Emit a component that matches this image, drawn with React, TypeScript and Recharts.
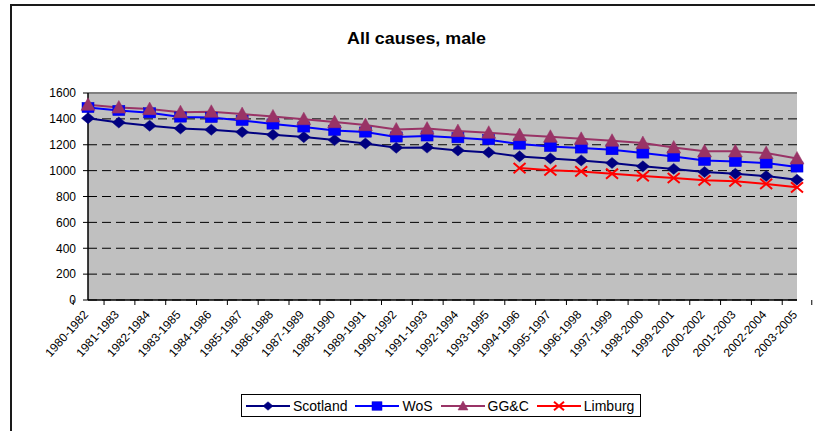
import React from 'react'
import { LineChart, Line, XAxis, YAxis, CartesianGrid, Legend, ReferenceLine } from 'recharts'

const periods = [
  '1980-1982', '1981-1983', '1982-1984', '1983-1985', '1984-1986', '1985-1987',
  '1986-1988', '1987-1989', '1988-1990', '1989-1991', '1990-1992', '1991-1993',
  '1992-1994', '1993-1995', '1994-1996', '1995-1997', '1996-1998', '1997-1999',
  '1998-2000', '1999-2001', '2000-2002', '2001-2003', '2002-2004', '2003-2005',
]

const scotland = [1405, 1372, 1347, 1326, 1316, 1298, 1277, 1259, 1236, 1210, 1177, 1178, 1156, 1141, 1110, 1094, 1079, 1059, 1033, 1013, 989, 976, 958, 930]
const wos = [1488, 1465, 1447, 1414, 1411, 1388, 1360, 1337, 1311, 1298, 1260, 1268, 1254, 1239, 1205, 1187, 1175, 1162, 1136, 1110, 1079, 1071, 1059, 1028]
const ggc = [1509, 1488, 1476, 1452, 1455, 1437, 1419, 1398, 1375, 1352, 1318, 1325, 1306, 1293, 1275, 1262, 1246, 1231, 1213, 1179, 1149, 1149, 1136, 1094]
const limburg = [null, null, null, null, null, null, null, null, null, null, null, null, null, null, 1020, 1002, 994, 976, 958, 943, 925, 917, 897, 871]

const yTicks = [0, 200, 400, 600, 800, 1000, 1200, 1400, 1600]

const data = periods.map((p, i) => ({
  period: p,
  Scotland: scotland[i],
  WoS: wos[i],
  'GG&C': ggc[i],
  Limburg: limburg[i],
}))

const NAVY = '#000080'
const BLUE = '#0000ff'
const PLUM = '#993366'
const RED = '#ff0000'
const font = 'Arial, "Liberation Sans", sans-serif'

// marker shapes (size passed as s, recharts' own r is ignored)
const Diamond = ({ cx, cy, s = 6.5 }: any) =>
  cx == null || cy == null ? null : (
    <path d={`M${cx},${cy - s * 0.85}L${cx + s},${cy}L${cx},${cy + s * 0.85}L${cx - s},${cy}Z`} fill={NAVY} stroke={NAVY} strokeWidth={0.5} />
  )
const Square = ({ cx, cy, s = 6 }: any) =>
  cx == null || cy == null ? null : (
    <rect x={cx - s} y={cy - s * 0.85} width={s * 2} height={s * 1.7} fill={BLUE} stroke="#0000cc" strokeWidth={0.5} />
  )
const Triangle = ({ cx, cy, s = 7 }: any) =>
  cx == null || cy == null ? null : (
    <path d={`M${cx},${cy - s}L${cx + s},${cy + s * 0.8}L${cx - s},${cy + s * 0.8}Z`} fill={PLUM} stroke={PLUM} strokeWidth={0.5} />
  )
const Cross = ({ cx, cy, s = 6 }: any) =>
  cx == null || cy == null ? null : (
    <path d={`M${cx - s},${cy - s * 0.85}L${cx + s},${cy + s * 0.85}M${cx + s},${cy - s * 0.85}L${cx - s},${cy + s * 0.85}`} stroke={RED} strokeWidth={2} fill="none" />
  )

const series = [
  { key: 'Scotland', color: NAVY, Dot: Diamond },
  { key: 'WoS', color: BLUE, Dot: Square },
  { key: 'GG&C', color: PLUM, Dot: Triangle },
  { key: 'Limburg', color: RED, Dot: Cross },
]

const BAND = 709 / periods.length

const XTick = ({ x, y, payload, index }: any) => (
  <g>
    <line x1={x - BAND / 2} y1={y} x2={x - BAND / 2} y2={y + 5} stroke="#000" />
    {index === periods.length - 1 && (
      <line x1={x + BAND / 2} y1={y} x2={x + BAND / 2} y2={y + 5} stroke="#000" />
    )}
    <g transform={`translate(${x + 1},${y + 15})`}>
      <text transform="rotate(-48)" textAnchor="end" fontSize={12} fontFamily={font} fill="#000">
        {payload.value}
      </text>
    </g>
  </g>
)

const LegendBox = () => (
  <div
    style={{
      border: '1px solid #000',
      background: '#fff',
      height: 23,
      display: 'flex',
      alignItems: 'center',
      paddingLeft: 4,
      fontFamily: font,
      fontSize: 14,
      boxSizing: 'border-box',
    }}
  >
    {series.map(({ key, color, Dot }) => (
      <div key={key} style={{ display: 'flex', alignItems: 'center', marginRight: 8 }}>
        <svg width={44} height={14}>
          <line x1={0} y1={7} x2={44} y2={7} stroke={color} strokeWidth={2} />
          <Dot cx={22} cy={7} s={5} />
        </svg>
        <span style={{ marginLeft: 3 }}>{key}</span>
      </div>
    ))}
  </div>
)

export default function App() {
  return (
    <div style={{ position: 'absolute', left: 0, top: 0, width: 815, height: 431, overflow: 'hidden', background: '#fff' }}>
      <div
        style={{
          position: 'absolute',
          left: 10,
          top: 4,
          width: 900,
          height: 500,
          borderTop: '2px solid #1a1a1a',
          borderLeft: '2px solid #1a1a1a',
          boxSizing: 'border-box',
        }}
      />
      <div
        style={{
          position: 'absolute',
          left: 9,
          top: 29,
          width: 815,
          textAlign: 'center',
          fontFamily: font,
          fontWeight: 'bold',
          fontSize: 17,
          transform: 'scaleX(1.05)',
        }}
      >
        All causes, male
      </div>
      <div style={{ position: 'absolute', left: 0, top: 0 }}>
        <LineChart width={815} height={431} data={data} margin={{ top: 93, right: 18, bottom: 0, left: 0 }}>
          <CartesianGrid horizontal vertical={false} fill="#c0c0c0" stroke="#000" strokeDasharray="9 5" />
          <XAxis
            dataKey="period"
            height={131}
            interval={0}
            tick={<XTick />}
            tickLine={false}
            tickSize={0}
            tickMargin={0}
            axisLine={{ stroke: '#000', strokeWidth: 1.5 }}
          />
          <YAxis
            domain={[0, 1600]}
            ticks={yTicks}
            width={88}
            tickSize={5}
            tickMargin={7}
            tick={{ fill: '#000', fontSize: 12, fontFamily: font }}
            tickLine={{ stroke: '#000' }}
            axisLine={{ stroke: '#000', strokeWidth: 1.5 }}
          />
          <YAxis yAxisId="r" orientation="right" width={0} tick={false} tickLine={false} axisLine={{ stroke: '#808080', strokeWidth: 2 }} />
          <ReferenceLine y={1600} stroke="#808080" strokeWidth={2} />
          {series.map(({ key, color, Dot }) => (
            <Line
              key={key}
              dataKey={key}
              stroke={color}
              strokeWidth={2}
              dot={<Dot />}
              activeDot={false}
              isAnimationActive={false}
              connectNulls={false}
            />
          ))}
          <Legend
            layout="horizontal"
            verticalAlign="middle"
            align="center"
            content={<LegendBox />}
            wrapperStyle={{ left: 241, top: 394, width: 400, height: 23 }}
          />
        </LineChart>
      </div>
    </div>
  )
}
